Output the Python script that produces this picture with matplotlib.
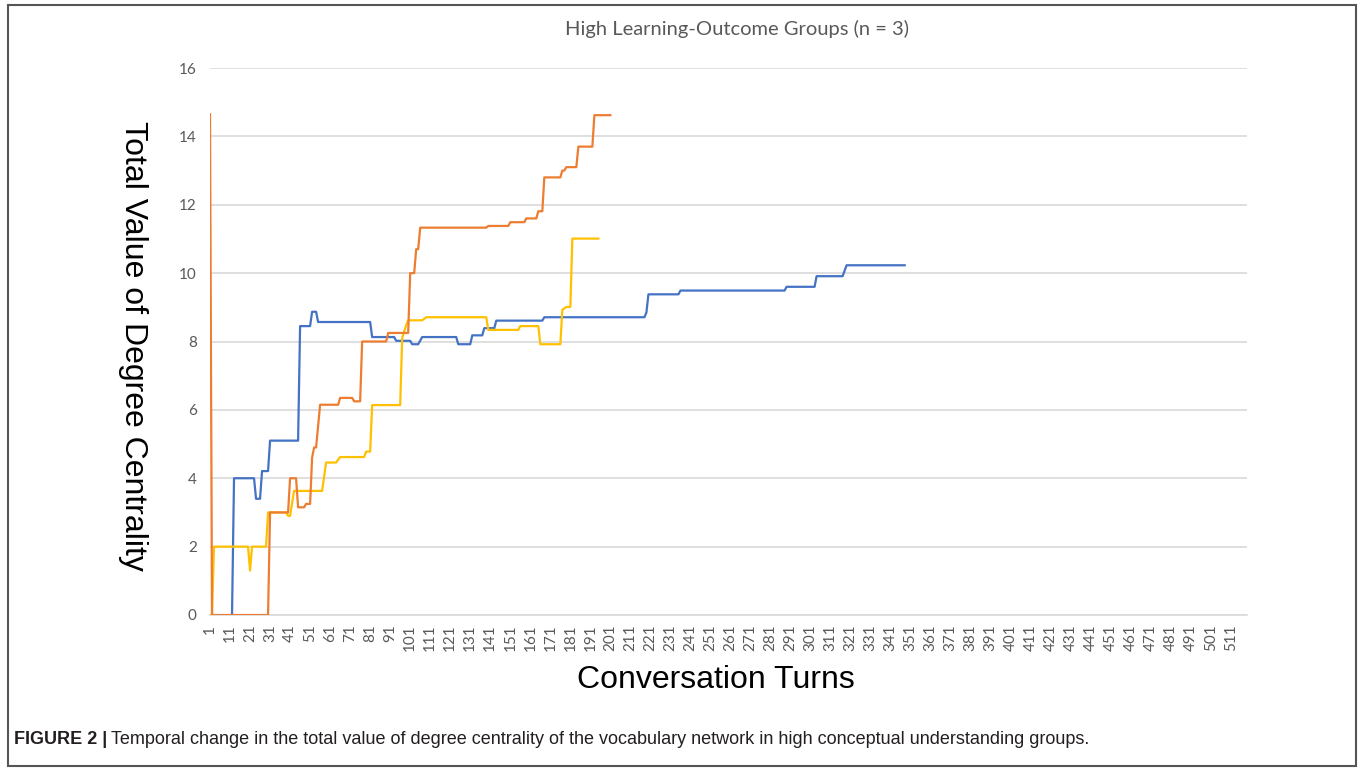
import matplotlib.pyplot as plt
from matplotlib.patches import Rectangle

# vertices of each group's polyline (turn, total degree centrality)
blue_turns = [12, 13, 23, 24, 26, 27, 30, 31, 45, 46, 51, 52, 54, 55, 81, 82, 93, 94,
              101, 102, 105, 107, 124, 125, 131, 132, 137, 138, 143, 144, 167, 168,
              218, 219, 220, 235, 236, 288, 289, 303, 304, 317, 319, 348]
blue_vals = [0, 4.0, 4.0, 3.4, 3.4, 4.21, 4.21, 5.1, 5.1, 8.45, 8.45, 8.87, 8.87, 8.57,
             8.57, 8.13, 8.13, 8.02, 8.02, 7.92, 7.92, 8.13, 8.13, 7.92, 7.92, 8.18,
             8.18, 8.39, 8.39, 8.61, 8.61, 8.71, 8.71, 8.85, 9.38, 9.38, 9.49, 9.49,
             9.6, 9.6, 9.91, 9.91, 10.23, 10.23]

orange_turns = [1, 2, 30, 31, 40, 41, 44, 45, 48, 49, 51, 52, 53, 54, 56, 65, 66, 72,
                73, 76, 77, 89, 90, 100, 101, 103, 104, 105, 106, 139, 140, 150, 151,
                158, 159, 164, 165, 167, 168, 176, 177, 178, 179, 184, 185, 192, 193, 201]
orange_vals = [14.65, 0, 0, 3.0, 3.0, 4.0, 4.0, 3.15, 3.15, 3.25, 3.25, 4.6, 4.9, 4.9,
               6.15, 6.15, 6.35, 6.35, 6.25, 6.25, 8.0, 8.0, 8.25, 8.25, 10.0, 10.0,
               10.7, 10.7, 11.33, 11.33, 11.38, 11.38, 11.49, 11.49, 11.6, 11.6, 11.81,
               11.81, 12.8, 12.8, 13.0, 13.0, 13.1, 13.1, 13.7, 13.7, 14.62, 14.62]

yellow_turns = [1, 2, 3, 20, 21, 22, 29, 30, 39, 40, 41, 43, 57, 59, 64, 66, 78, 79, 81,
                82, 96, 97, 99, 100, 107, 109, 139, 140, 155, 156, 165, 166, 176, 177,
                179, 181, 182, 195]
yellow_vals = [0, 0, 2.0, 2.0, 1.3, 2.0, 2.0, 3.0, 3.0, 2.9, 2.9, 3.63, 3.63, 4.46, 4.46,
               4.62, 4.62, 4.78, 4.78, 6.14, 6.14, 8.1, 8.48, 8.62, 8.62, 8.71, 8.71,
               8.34, 8.34, 8.45, 8.45, 7.92, 7.92, 8.93, 9.01, 9.01, 11.01, 11.01]

n_turns = 519
tick_turns = list(range(1, 512, 10))
y_ticks = list(range(0, 17, 2))

grey = '#595959'

fig = plt.figure(figsize=(13.63, 7.71), dpi=100)
ax = fig.add_axes([210 / 1363, 1 - 615 / 771, 1037 / 1363, 547 / 771])

ax.plot(blue_turns, blue_vals, color='#4472C4', lw=1.6, zorder=3)
ax.plot(yellow_turns, yellow_vals, color='#FFC000', lw=1.6, zorder=4)
ax.plot(orange_turns, orange_vals, color='#ED7D31', lw=1.6, zorder=5)

ax.set_xlim(1, n_turns)
ax.set_ylim(0, 16)
ax.set_yticks(y_ticks)
ax.set_xticks(tick_turns)
ax.set_xticklabels([str(t) for t in tick_turns], rotation=90)
ax.tick_params(length=0, colors=grey, labelsize=11)
ax.tick_params(axis='x', pad=7)
ax.tick_params(axis='y', pad=9.5)
for lab in ax.get_xticklabels() + ax.get_yticklabels():
    lab.set_family('Lato')
ax.grid(axis='y', color='#D9D9D9', lw=1.2)
ax.set_axisbelow(True)
for s in ['top', 'right', 'left']:
    ax.spines[s].set_visible(False)
ax.spines['bottom'].set_color('#D9D9D9')
ax.spines['bottom'].set_linewidth(1.2)

fig.text(737 / 1363, 1 - 29 / 771, 'High Learning-Outcome Groups (n = 3)', ha='center',
         va='center', fontsize=14.5, color=grey, family='Lato')
fig.text(133 / 1363, 1 - 346 / 771, 'Total Value of Degree Centrality', rotation=270,
         ha='center', va='center', fontsize=23, family='Liberation Sans')
fig.text(716 / 1363, 1 - 680 / 771, 'Conversation Turns', ha='center', va='center',
         fontsize=23, family='Liberation Sans')

# caption: bold label, then the regular sentence right after it
cap_y = 1 - 740 / 771
lbl = fig.text(14 / 1363, cap_y, 'FIGURE 2 |', ha='left', va='center', fontsize=13,
               fontweight='bold', family='Liberation Sans', color='#231F20')
fig.canvas.draw()
bb = lbl.get_window_extent()
fig.text((bb.x1 + 4) / 1363, cap_y,
         'Temporal change in the total value of degree centrality of the vocabulary '
         'network in high conceptual understanding groups.',
         ha='left', va='center', fontsize=13, family='Liberation Sans', color='#231F20')

fig.patches.append(Rectangle((8 / 1363, 5 / 771), 1348 / 1363, 761 / 771,
                             transform=fig.transFigure, fill=False,
                             edgecolor='#555555', lw=1.5))

fig.savefig('out.png', dpi=100)
